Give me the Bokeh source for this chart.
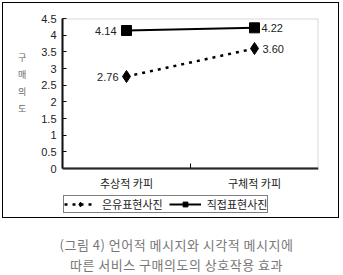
from bokeh.plotting import figure
from bokeh.models import (Range1d, FixedTicker, Legend, LegendItem, ColumnDataSource, Div,
                          BoxAnnotation)
from bokeh.layouts import column
from bokeh.embed import file_html
from bokeh.resources import INLINE

categories = ["추상적 카피", "구체적 카피"]
metaphor = [2.76, 3.60]      # 은유표현사진
direct = [4.14, 4.22]        # 직접표현사진
series_names = ["은유표현사진", "직접표현사진"]
y_ticks = [0, 0.5, 1, 1.5, 2, 2.5, 3, 3.5, 4, 4.5]
y_title = "구매의도"
caption = ["(그림 4) 언어적 메시지와 시각적 메시지에", "따른 서비스 구매의도의 상호작용 효과"]

xpos = [i + 0.5 for i in range(len(categories))]
y_max = y_ticks[-1]
# frame: 197 px tall, 150 px for 0..4.5; the rest below 0 holds axis labels and legend
y_min = y_max - y_max * 197.0 / 150.0

p = figure(width=335, height=214, output_backend="svg", toolbar_location=None,
           x_range=Range1d(0, len(categories)), y_range=Range1d(y_min, y_max),
           min_border_left=59, min_border_right=20, min_border_top=15, min_border_bottom=2,
           title=None, margin=(3, 0, 0, 3),
           styles={"outline": "1px solid black"})
p.background_fill_color = "white"
p.border_fill_color = "white"
p.outline_line_color = None
p.grid.visible = False

# plot-area outline (grey, like the original)
p.add_layout(BoxAnnotation(left=0, right=len(categories), bottom=0, top=y_max,
                           fill_alpha=0, line_color="#808080", line_width=2))

# axes
p.xaxis.fixed_location = 0
p.xaxis.ticker = FixedTicker(ticks=xpos, minor_ticks=[1])
p.xaxis.major_label_overrides = {x: c for x, c in zip(xpos, categories)}
p.xaxis.major_tick_in = 0
p.xaxis.major_tick_out = 0
p.xaxis.minor_tick_in = 5
p.xaxis.minor_tick_out = 0
p.xaxis.major_label_standoff = 6
p.xaxis.major_label_text_font = "Noto Sans CJK KR"
p.xaxis.major_label_text_font_size = "11px"
p.xaxis.major_label_text_color = "#222222"
p.xaxis.axis_line_color = "black"
p.xaxis.axis_line_width = 2

p.yaxis.bounds = (0, y_max)
p.yaxis.ticker = FixedTicker(ticks=y_ticks)
p.yaxis.major_label_overrides = {t: ("%g" % t) for t in y_ticks}
p.yaxis.major_tick_in = 4
p.yaxis.major_tick_out = 0
p.yaxis.minor_tick_in = 0
p.yaxis.minor_tick_out = 0
p.yaxis.major_label_standoff = 6
p.yaxis.major_label_text_font = "Liberation Sans"
p.yaxis.major_label_text_font_size = "11px"
p.yaxis.major_label_text_color = "#222222"
p.yaxis.axis_line_color = "black"
p.yaxis.axis_line_width = 2
# stacked title; blank lines below lift it to the middle of the 0..4.5 scale
p.yaxis.axis_label = "\n".join(list(y_title) + ["\u00a0"] * 4)
p.yaxis.axis_label_orientation = "horizontal"
p.yaxis.axis_label_standoff = 12
p.yaxis.axis_label_text_font = "Noto Sans CJK KR"
p.yaxis.axis_label_text_font_size = "9px"
p.yaxis.axis_label_text_font_style = "normal"
p.yaxis.axis_label_text_color = "#666666"
p.yaxis.axis_label_text_line_height = 1.3

# series
r1l = p.line(xpos, metaphor, line_color="black", line_width=2.5, line_dash="3 5")
r1m = p.scatter(xpos, metaphor, marker="diamond", size=12, fill_color="black", line_color="black")
r2l = p.line(xpos, direct, line_color="black", line_width=2)
r2m = p.scatter(xpos, direct, marker="square", size=10, fill_color="black", line_color="black")

# value labels
lab_src = ColumnDataSource(dict(
    x=[xpos[0], xpos[1], xpos[0], xpos[1]],
    y=[metaphor[0], metaphor[1], direct[0], direct[1]],
    t=["%.2f" % metaphor[0], "%.2f" % metaphor[1], "%.2f" % direct[0], "%.2f" % direct[1]],
    align=["right", "left", "right", "left"],
    xo=[-8, 8, -10, 7],
))
p.text(x="x", y="y", text="t", text_align="align", x_offset="xo", text_baseline="middle",
       text_font_size="11px", text_color="#222222", source=lab_src,
       text_font={"value": "Liberation Sans"})

# legend
legend = Legend(items=[LegendItem(label=series_names[0], renderers=[r1l, r1m]),
                       LegendItem(label=series_names[1], renderers=[r2l, r2m])],
                orientation="horizontal", location=(1, 2),
                glyph_width=32, glyph_height=12, label_standoff=6, spacing=6,
                padding=0, margin=0,
                label_text_font="Noto Sans CJK KR", label_text_font_size="11px",
                label_text_color="#222222", label_height=12,
                border_line_color="black", border_line_width=1,
                background_fill_alpha=1)
p.add_layout(legend, "center")

cap = Div(text="<br>".join(caption), width=343, height=58,
          styles={"font-family": "Noto Sans CJK KR", "font-size": "13px", "color": "#777777",
                  "text-align": "center", "line-height": "20px", "padding-top": "13px",
                  "letter-spacing": "0.5px", "width": "343px"})

layout = column(p, cap, spacing=0)
open("out.html", "w").write(file_html(layout, INLINE))
